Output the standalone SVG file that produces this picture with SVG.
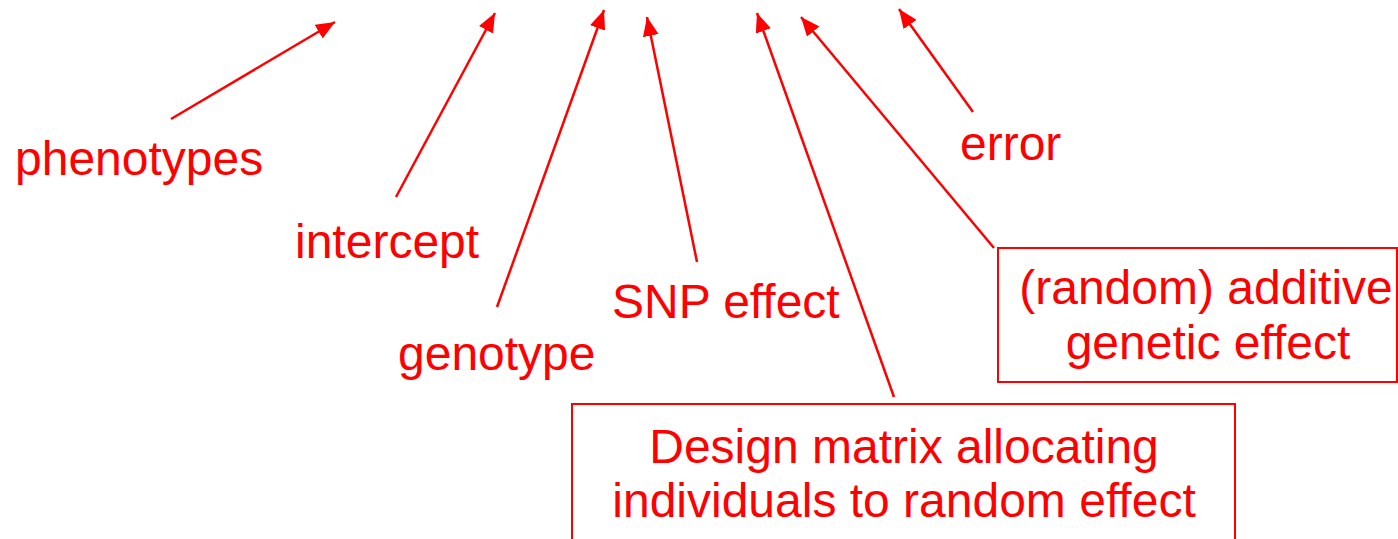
<svg xmlns="http://www.w3.org/2000/svg" width="1398" height="539" viewBox="0 0 1398 539">
<style>
text{font-family:"Liberation Sans",Arial,sans-serif;font-size:48px;fill:#ff0000}
.c{text-anchor:middle}
.arr{stroke:#ff0000;stroke-width:2.5;fill:none;marker-end:url(#ah)}
.box{fill:none;stroke:#ff0000;stroke-width:2}
</style>
<defs>
<marker id="ah" markerUnits="userSpaceOnUse" markerWidth="20" markerHeight="16" refX="19" refY="8" orient="auto" viewBox="0 0 20 16">
<path d="M0,0 L19,8 L0,16 z" fill="#ff0000"/>
</marker>
</defs>
<rect width="1398" height="539" fill="#ffffff"/>
<g id="connectors">
<line class="arr" x1="171" y1="119" x2="335" y2="22"/>
<line class="arr" x1="396" y1="197" x2="495" y2="13"/>
<line class="arr" x1="497" y1="307" x2="604" y2="10"/>
<line class="arr" x1="697" y1="262" x2="647" y2="17"/>
<line class="arr" x1="894" y1="397" x2="757" y2="13"/>
<line class="arr" x1="994" y1="248" x2="801" y2="17"/>
<line class="arr" x1="973" y1="112" x2="899" y2="9"/>
</g>
<g id="phenotypes"><text x="15" y="175">phenotypes</text></g>
<g id="intercept"><text x="295" y="258">intercept</text></g>
<g id="genotype"><text x="398" y="370">genotype</text></g>
<g id="snp-effect"><text x="612" y="318">SNP effect</text></g>
<g id="error"><text x="960" y="160">error</text></g>
<g id="additive">
<rect class="box" x="998" y="248" width="399" height="134"/>
<text class="c" x="1206" y="304">(random) additive</text>
<text class="c" x="1208" y="359">genetic effect</text>
</g>
<g id="design-matrix">
<rect class="box" x="572" y="404" width="663" height="140"/>
<text class="c" x="904" y="463">Design matrix allocating</text>
<text class="c" x="904" y="517">individuals to random effect</text>
</g>
</svg>
